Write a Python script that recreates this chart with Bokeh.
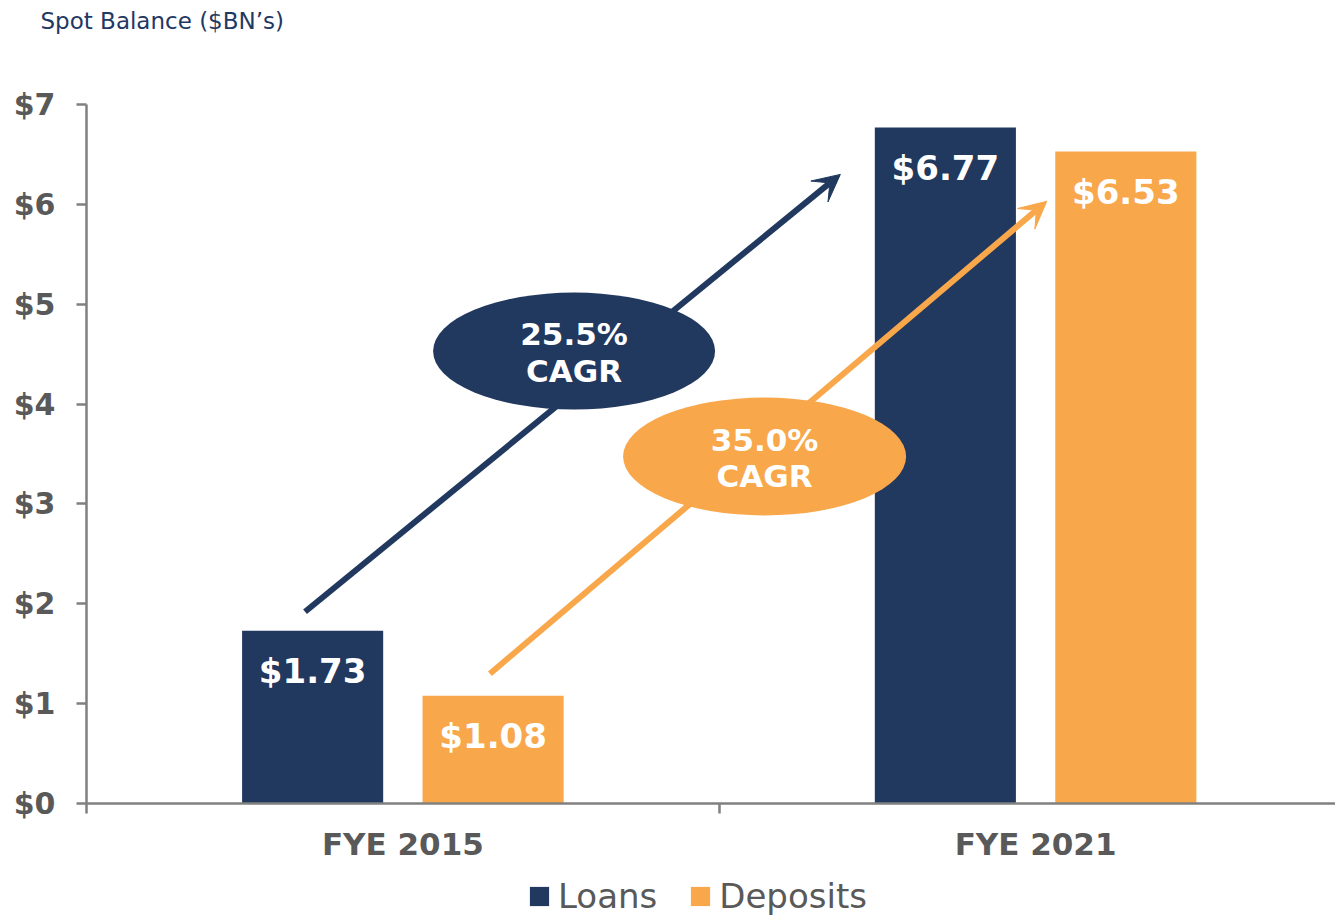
from bokeh.plotting import figure
from bokeh.layouts import column
from bokeh.models import (FixedTicker, Arrow, VeeHead, Legend, LegendItem, Range1d, Title)
from bokeh.core.properties import value
from bokeh.embed import file_html
from bokeh.resources import INLINE

# ---------------- data ----------------
categories = ["FYE 2015", "FYE 2021"]
series = ["Loans", "Deposits"]
loans = [1.73, 6.77]
deposits = [1.08, 6.53]
loans_labels = ["$1.73", "$6.77"]
deposits_labels = ["$1.08", "$6.53"]
cagr_values = ["25.5%", "35.0%"]
cagr_word = ["CAGR", "CAGR"]
y_ticks = [0, 1, 2, 3, 4, 5, 6, 7]
y_tick_labels = ["$0", "$1", "$2", "$3", "$4", "$5", "$6", "$7"]

# ---------------- styles ----------------
NAVY = "#21385F"
ORANGE = "#F9A74B"
GRAY = "#595959"
AXIS = "#808080"
FONT = "DejaVu Sans"
BAR_W = 0.223
OFF = 0.1426

cat_x = [i + 0.5 for i in range(len(categories))]
x_loans = [c - OFF for c in cat_x]
x_dep = [c + OFF for c in cat_x]

p = figure(title=None, width=1335, height=876, frame_width=1249, frame_height=699,
           x_range=Range1d(0, 1.974), y_range=Range1d(0, 7),
           output_backend="svg", toolbar_location=None,
           min_border_left=86, min_border_right=0, min_border_top=104,
           min_border_bottom=73)

p.xgrid.visible = False
p.ygrid.visible = False
p.outline_line_color = None
p.background_fill_color = "white"

# spacer between title and plot frame, then the title itself
p.add_layout(Title(text=" ", text_font_size="46px", text_font=FONT), "above")
p.add_layout(Title(text="Spot Balance ($BN\u2019s)", text_font=FONT,
                   text_font_style="normal", text_font_size="23px",
                   text_color="#1F3864", align="left", offset=-46), "above")

r_loans = p.vbar(x=x_loans, top=loans, width=BAR_W, fill_color=NAVY, line_color=None)
r_dep = p.vbar(x=x_dep, top=deposits, width=BAR_W, fill_color=ORANGE, line_color=None)

# value labels inside bars
p.text(x=x_loans, y=[v - 0.405 for v in loans], text=loans_labels,
       text_align="center", text_baseline="middle", text_color="white",
       text_font=value(FONT), text_font_style="bold", text_font_size="34px")
p.text(x=x_dep, y=[v - 0.405 for v in deposits], text=deposits_labels,
       text_align="center", text_baseline="middle", text_color="white",
       text_font=value(FONT), text_font_style="bold", text_font_size="34px")

# growth arrows (from the 2015 bar towards the 2021 bar)
arrow_specs = [
    (x_loans[0] - 0.012, loans[0] + 0.19, x_loans[1] - 0.166, loans[1] - 0.47, NAVY),
    (x_dep[0] - 0.005, deposits[0] + 0.22, x_dep[1] - 0.125, deposits[1] - 0.50, ORANGE),
]
for xs, ys, xe, ye, col in arrow_specs:
    p.add_layout(Arrow(x_start=xs, y_start=ys, x_end=xe, y_end=ye,
                       line_color=col, line_width=6,
                       end=VeeHead(size=27, fill_color=col, line_color=col, line_width=1)))

# CAGR bubbles
ell_x = [0.7706, 1.0717]
ell_y = [4.531, 3.475]
p.ellipse(x=ell_x, y=ell_y, width=[282, 283], height=[117, 118],
          width_units="screen", height_units="screen",
          fill_color=[NAVY, ORANGE], line_color=None, level="overlay")
p.text(x=ell_x, y=[y + 0.17 for y in ell_y], text=cagr_values,
       text_align="center", text_baseline="middle", text_color="white",
       text_font=value(FONT), text_font_style="bold", text_font_size="31px",
       level="overlay")
p.text(x=ell_x, y=[y - 0.195 for y in ell_y], text=cagr_word,
       text_align="center", text_baseline="middle", text_color="white",
       text_font=value(FONT), text_font_style="bold", text_font_size="31px",
       level="overlay")

# y axis
ya = p.yaxis[0]
ya.ticker = FixedTicker(ticks=y_ticks)
ya.major_label_overrides = {t: l for t, l in zip(y_ticks, y_tick_labels)}
ya.axis_line_color = AXIS
ya.axis_line_width = 2.5
ya.major_tick_line_color = AXIS
ya.major_tick_line_width = 2.5
ya.major_tick_out = 10
ya.major_tick_in = 0
ya.minor_tick_line_color = None
ya.major_label_text_font = FONT
ya.major_label_text_font_style = "bold"
ya.major_label_text_font_size = "30px"
ya.major_label_text_color = GRAY
ya.major_label_standoff = 21

# x axis
xa = p.xaxis[0]
xa.ticker = FixedTicker(ticks=cat_x, minor_ticks=[float(i) for i in range(len(categories) + 1)])
xa.major_label_overrides = {c: l for c, l in zip(cat_x, categories)}
xa.axis_line_color = AXIS
xa.axis_line_width = 2.5
xa.major_tick_line_color = None
xa.major_tick_out = 0
xa.major_tick_in = 0
xa.minor_tick_line_color = AXIS
xa.minor_tick_line_width = 2.5
xa.minor_tick_out = 10
xa.minor_tick_in = 0
xa.major_label_text_font = FONT
xa.major_label_text_font_style = "bold"
xa.major_label_text_font_size = "31px"
xa.major_label_text_color = GRAY
xa.major_label_standoff = 12

# legend strip below the chart (zero-height proxy bars carry the legend swatches)
pl = figure(width=1335, height=40, x_range=Range1d(0, 1), y_range=Range1d(0, 1),
            x_axis_location=None, y_axis_location=None,
            output_backend="svg", toolbar_location=None, min_border=0)
pl.xgrid.visible = False
pl.ygrid.visible = False
pl.outline_line_color = None
lg_loans = pl.vbar(x=[0.5], top=[0], width=0.01, fill_color=NAVY, line_color=None)
lg_dep = pl.vbar(x=[0.5], top=[0], width=0.01, fill_color=ORANGE, line_color=None)
legend = Legend(items=[LegendItem(label=series[0], renderers=[lg_loans]),
                       LegendItem(label=series[1], renderers=[lg_dep])],
                orientation="horizontal", location=(441, 0),
                glyph_width=24, glyph_height=24, label_standoff=7, spacing=31,
                padding=0, margin=0, border_line_alpha=0, background_fill_alpha=0,
                label_text_font=FONT, label_text_font_size="34px",
                label_text_color=GRAY)
pl.add_layout(legend)

layout = column(p, pl, spacing=0)
open("out.html", "w").write(file_html(layout, INLINE))
